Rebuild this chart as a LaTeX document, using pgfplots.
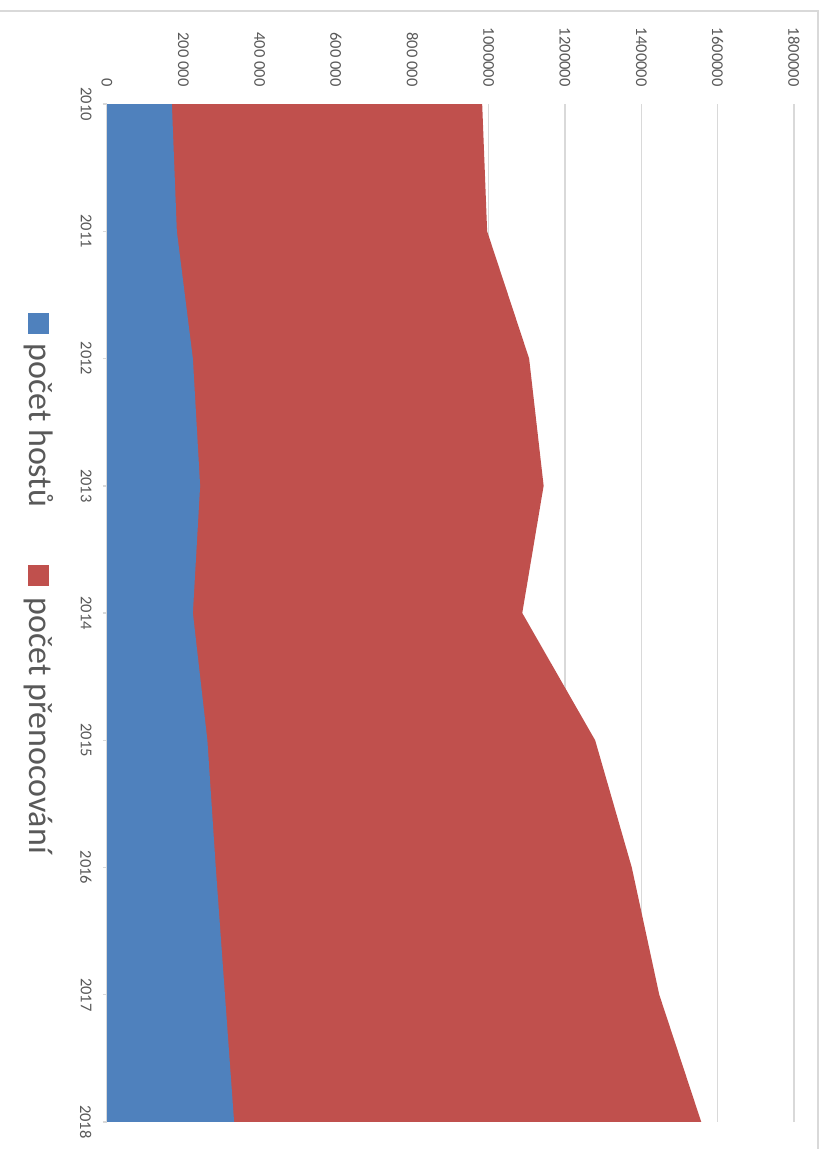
\documentclass[border=0pt]{standalone}
\usepackage{fontspec}
\setmainfont{Carlito}
\usepackage{pgfplots}
\usepackage{pgfplotstable}
\pgfplotsset{compat=1.18}
\definecolor{hostBlue}{HTML}{4F81BD}
\definecolor{nightRed}{HTML}{C0504D}
\definecolor{gridGray}{HTML}{D9D9D9}
\definecolor{txtGray}{HTML}{595959}

\pgfplotstableread{
year  hosts   nights
2010  170000   813000
2011  183000   813000
2012  225000   881000
2013  244000   900000
2014  225000   863000
2015  263000  1016000
2016  285000  1090000
2017  309000  1138000
2018  333000  1224000
}\datatable

\begin{document}
\begin{tikzpicture}
\useasboundingbox (0,0) rectangle (820pt,-1149pt);
% chart area frame (only top and right edge are visible)
\draw[gridGray, line width=1.5pt] (-10pt,-11pt) -- (818pt,-11pt) -- (818pt,-1160pt);
\begin{axis}[
    at={(450.5pt,-613pt)}, anchor=center,
    width=687pt, height=1018pt, scale only axis,
    xmin=0, xmax=1800000,
    ymin=2010, ymax=2018,
    y dir=reverse,
    axis x line*=top,
    axis y line*=left,
    x axis line style={draw=none},
    y axis line style={gridGray, line width=1.5pt, -},
    xtick={0,200000,400000,600000,800000,1000000,1200000,1400000,1600000,1800000},
    xticklabels={0,200 000,400 000,600 000,800 000,1000000,1200000,1400000,1600000,1800000},
    scaled x ticks=false,
    xmajorgrids,
    major grid style={gridGray, line width=1.5pt},
    xtick style={draw=none},
    ytick={2010,2011,2012,2013,2014,2015,2016,2017,2018},
    yticklabels={2010,2011,2012,2013,2014,2015,2016,2017,2018},
    ytick style={gridGray, line width=1.5pt},
    tick align=outside,
    major tick length=4pt,
    ticklabel style={font=\fontsize{16.5}{18}\selectfont, text=txtGray, rotate=-90},
    xticklabel style={anchor=east},
    yticklabel style={anchor=north},
    xticklabel shift=10pt,
    yticklabel shift=8pt,
    clip=false,
]

  % stacked areas: the total (hosts + nights) first, hosts drawn over it
  \addplot[fill=nightRed, draw=none]
    table[x expr=\thisrow{hosts}+\thisrow{nights}, y=year] {\datatable}
    -- (axis cs:0,2018) -- (axis cs:0,2010) -- cycle;
  \addplot[fill=hostBlue, draw=none]
    table[x=hosts, y=year] {\datatable}
    -- (axis cs:0,2018) -- (axis cs:0,2010) -- cycle;

  % legend, turned like the rest of the chart
  \node[fill=hostBlue, minimum size=21pt, inner sep=0pt]
    at (axis description cs:-0.0997,0.7844) {};
  \node[rotate=-90, anchor=west, inner sep=0pt, text=txtGray,
        font=\fontsize{34}{40}\selectfont]
    at (axis description cs:-0.0997,0.7652) {počet hostů};
  \node[fill=nightRed, minimum size=21pt, inner sep=0pt]
    at (axis description cs:-0.0997,0.5368) {};
  \node[rotate=-90, anchor=west, inner sep=0pt, text=txtGray,
        font=\fontsize{34}{40}\selectfont]
    at (axis description cs:-0.0997,0.5157) {počet přenocování};

\end{axis}
\end{tikzpicture}
\end{document}
